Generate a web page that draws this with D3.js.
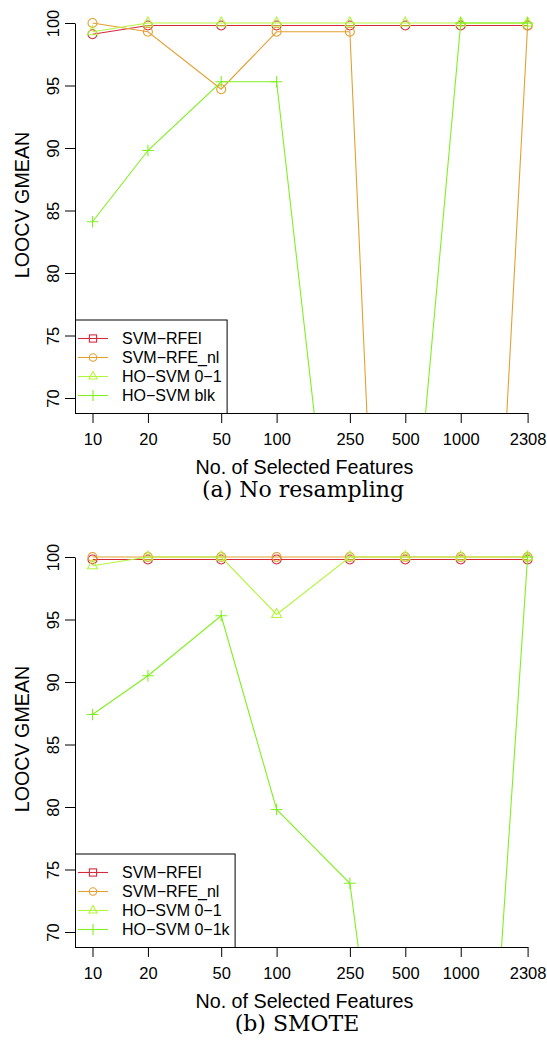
<!DOCTYPE html>
<html lang="en">
<head>
<meta charset="UTF-8">
<title>LOOCV GMEAN</title>
<script src="https://d3js.org/d3.v7.min.js"></script>
<style>
    body { margin: 0; background: #fff; }
    text { font-family: "Liberation Sans", Arial, sans-serif; fill: #000; }
</style>
</head>
<body>
<script>
    // number of selected features (x) and gmean ticks (y)
    var features = [10, 20, 50, 100, 250, 500, 1000, 2308];
    var gmeanTicks = [70, 75, 80, 85, 90, 95, 100];

    // (a) no resampling
    var rfelNoRes  = [99.1, 99.8, 99.8, 99.8, 99.8, 99.8, 99.8, 99.8];
    var rfenlNoRes = [100, 99.3, 94.7, 99.3, 99.3, 0, 0, 99.8];
    var ho01NoRes  = [99.3, 100, 100, 100, 100, 100, 100, 100];
    var hoBlkNoRes = [84.1, 89.8, 95.3, 95.3, 43.6, 50.8, 100, 100];
    var namesNoRes = ["SVM\u2212RFEl", "SVM\u2212RFE_nl", "HO\u2212SVM 0\u22121", "HO\u2212SVM blk"];

    // (b) SMOTE
    var rfelSmote  = [99.8, 99.8, 99.8, 99.8, 99.8, 99.8, 99.8, 99.8];
    var rfenlSmote = [100, 100, 100, 100, 100, 100, 100, 100];
    var ho01Smote  = [99.3, 100, 100, 95.4, 100, 100, 100, 100];
    var ho1kSmote  = [87.4, 90.5, 95.3, 79.8, 73.9, 40.2, 20, 100];
    var namesSmote = ["SVM\u2212RFEl", "SVM\u2212RFE_nl", "HO\u2212SVM 0\u22121", "HO\u2212SVM 0\u22121k"];

    var colors = ["#d42a3c", "#e3a032", "#b4f53c", "#80f020"];
    var plotShapes = ["circle", "circle", "triangle", "plus"];
    var legendShapes = ["square", "circle", "triangle", "plus"];

    var W = 547, H = 1040;
    var plotLeft = 75.5, plotTop = 8, plotBottom = 413.5, plotRight = 547;

    var x = d3.scaleLog().domain([10, 2308]).range([92.5, 527.6]);
    var y = d3.scaleLinear().domain([70, 100]).range([398, 23]);

    var svg = d3.select("body").append("svg")
        .attr("width", W)
        .attr("height", H);

    // draw a point symbol centered at 0,0
    function marker(g, shape, size, color) {
        if (shape == "circle") {
            g.append("circle").attr("r", size).attr("fill", "none")
                .attr("stroke", color).attr("stroke-width", 1.1);
        } else if (shape == "square") {
            g.append("rect").attr("x", -size).attr("y", -size)
                .attr("width", 2 * size).attr("height", 2 * size)
                .attr("fill", "none").attr("stroke", color).attr("stroke-width", 1.1);
        } else if (shape == "triangle") {
            var h = size * 1.35;
            g.append("path")
                .attr("d", "M0," + (-h) + "L" + (size * 1.1) + "," + (h * 0.5) + "L" + (-size * 1.1) + "," + (h * 0.5) + "Z")
                .attr("fill", "none").attr("stroke", color).attr("stroke-width", 1.1);
        } else {
            var s = size * 1.3;
            g.append("path")
                .attr("d", "M" + (-s) + ",0H" + s + "M0," + (-s) + "V" + s)
                .attr("fill", "none").attr("stroke", color).attr("stroke-width", 1.1);
        }
    }

    function drawPanel(offset, series, names, caption, capX, id) {
        var g = svg.append("g").attr("transform", "translate(0," + offset + ")");

        g.append("clipPath").attr("id", id)
            .append("rect")
            .attr("x", plotLeft).attr("y", plotTop)
            .attr("width", plotRight - plotLeft).attr("height", plotBottom - plotTop);

        var plot = g.append("g").attr("clip-path", "url(#" + id + ")");

        var line = d3.line()
            .x(function(d) { return x(d.f); })
            .y(function(d) { return y(d.v); });

        series.forEach(function(vals, i) {
            var pts = features.map(function(f, j) { return {f: f, v: vals[j]}; });
            plot.append("path")
                .datum(pts)
                .attr("d", line)
                .attr("fill", "none")
                .attr("stroke", colors[i])
                .attr("stroke-width", 1.1);
            plot.selectAll(".m" + i).data(pts).enter()
                .append("g")
                .attr("class", "m" + i)
                .attr("transform", function(d) { return "translate(" + x(d.f) + "," + y(d.v) + ")"; })
                .each(function() { marker(d3.select(this), plotShapes[i], 4.5, colors[i]); });
        });

        // y axis
        var ya = g.append("g")
            .attr("transform", "translate(75,0)")
            .call(d3.axisLeft(y).tickValues(gmeanTicks).tickSize(10).tickSizeOuter(0));
        ya.selectAll("text")
            .attr("transform", "rotate(-90)")
            .attr("x", 0).attr("y", -16).attr("dy", 0)
            .style("text-anchor", "middle")
            .style("font-size", "16.5px")
            .style("font-family", "Liberation Sans, Arial, sans-serif");

        // x axis
        var xa = g.append("g")
            .attr("transform", "translate(0,413)")
            .call(d3.axisBottom(x).tickValues(features).tickFormat(d3.format("d")).tickSize(10).tickSizeOuter(0));
        xa.selectAll("text")
            .attr("y", 32).attr("dy", 0)
            .style("font-size", "16.5px")
            .style("font-family", "Liberation Sans, Arial, sans-serif");

        // axis titles
        g.append("text")
            .attr("transform", "translate(28.7,205) rotate(-90)")
            .style("text-anchor", "middle")
            .style("font-size", "19.7px")
            .text("LOOCV GMEAN");

        g.append("text")
            .attr("x", 304.4).attr("y", 474)
            .style("text-anchor", "middle")
            .style("font-size", "19.7px")
            .text("No. of Selected Features");

        // legend, bottom left
        var leg = g.append("g");
        var box = leg.append("rect")
            .attr("x", plotLeft).attr("y", 320)
            .attr("height", plotBottom - 320)
            .attr("fill", "#fff").attr("stroke", "#000").attr("stroke-width", 1);
        var maxEnd = 0;
        names.forEach(function(n, i) {
            var ly = 338.5 + i * 19;
            leg.append("line")
                .attr("x1", 78).attr("x2", 108)
                .attr("y1", ly).attr("y2", ly)
                .attr("stroke", colors[i]).attr("stroke-width", 1.1);
            var mg = leg.append("g").attr("transform", "translate(93," + ly + ")");
            var sz = legendShapes[i] == "square" ? 3.6 : (legendShapes[i] == "plus" ? 4.2 : 3.7);
            marker(mg, legendShapes[i], sz, colors[i]);
            var t = leg.append("text")
                .attr("x", 122).attr("y", ly + 5.8)
                .style("font-size", "16px")
                .text(n);
            maxEnd = Math.max(maxEnd, 122 + t.node().getComputedTextLength());
        });
        box.attr("width", maxEnd + 5.5 - plotLeft);

        // sub-figure caption
        g.append("text")
            .attr("x", capX).attr("y", 497)
            .style("text-anchor", "middle")
            .style("font-family", "DejaVu Serif, serif")
            .style("font-size", "22px")
            .text(caption);
    }

    drawPanel(0, [rfelNoRes, rfenlNoRes, ho01NoRes, hoBlkNoRes], namesNoRes, "(a) No resampling", 303, "clipA");
    drawPanel(534, [rfelSmote, rfenlSmote, ho01Smote, ho1kSmote], namesSmote, "(b) SMOTE", 297, "clipB");
</script>
</body>
</html>
